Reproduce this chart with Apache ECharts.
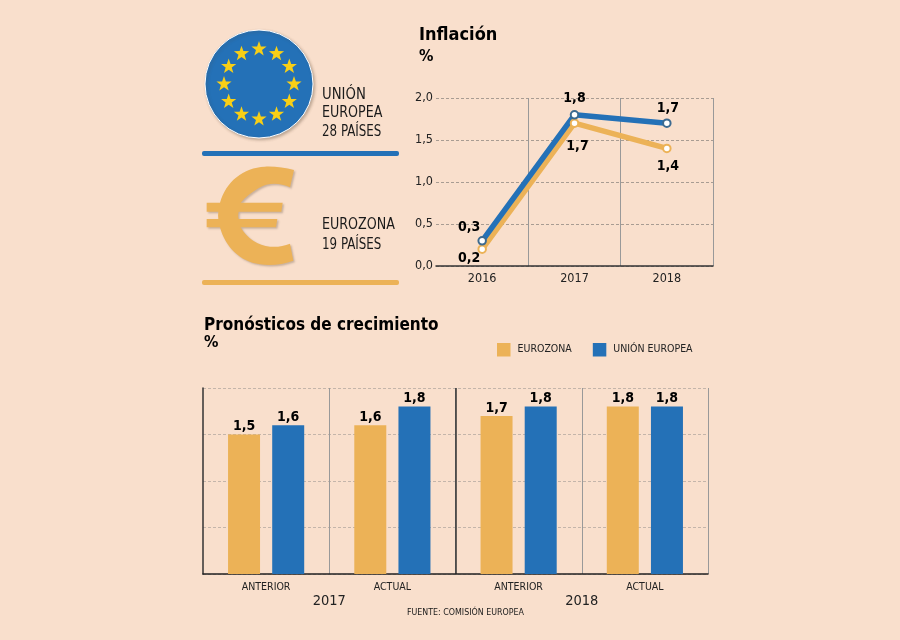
<!DOCTYPE html>
<html>
<head>
<meta charset="utf-8">
<style>
html, body { margin: 0; padding: 0; background: #f9dfcc; }
#chart { width: 900px; height: 640px; }
</style>
<script src="https://cdn.jsdelivr.net/npm/echarts@6/dist/echarts.min.js"></script>
</head>
<body>
<div id="chart"></div>
<script>
var inflationYears = ['2016', '2017', '2018'];
var inflationEurozona = [0.2, 1.7, 1.4];
var inflationUnion = [0.3, 1.8, 1.7];

var forecastCategories = ['ANTERIOR', 'ACTUAL', 'ANTERIOR', 'ACTUAL'];
var forecastYears = ['2017', '2018'];
var forecastEurozona = [1.5, 1.6, 1.7, 1.8];
var forecastUnion = [1.6, 1.8, 1.8, 1.8];

var BLUE = '#2471b7';
var ORANGE = '#ecb257';
var FONT = '"DejaVu Sans Condensed", "DejaVu Sans", sans-serif';
var BG = '#f9dfcc';

function comma(value) {
    return value.toFixed(1).replace('.', ',');
}

function valueLabel(params) {
    return comma(params.value);
}

// label offsets per point, the line labels sit around the markers by hand
function lineData(values, offsets) {
    return values.map(function (v, i) {
        return { value: v, label: { offset: offsets[i] } };
    });
}

function starPoints(cx, cy, r) {
    var pts = [];
    for (var i = 0; i < 10; i++) {
        var a = -Math.PI / 2 + i * Math.PI / 5;
        var rr = i % 2 ? r * 0.4 : r;
        pts.push([cx + rr * Math.cos(a), cy + rr * Math.sin(a)]);
    }
    return pts;
}

var flag = [{
    type: 'circle',
    shape: { cx: 259, cy: 84, r: 54 },
    style: { fill: BLUE, stroke: '#fff', lineWidth: 1, shadowBlur: 3, shadowColor: 'rgba(90,70,50,0.35)', shadowOffsetX: 1.5, shadowOffsetY: 1.5 }
}];
for (var s = 0; s < 12; s++) {
    var ang = s * Math.PI / 6;
    flag.push({
        type: 'polygon',
        shape: { points: starPoints(259 + 35 * Math.sin(ang), 84 - 35 * Math.cos(ang), 8) },
        style: { fill: '#f8cf16' }
    });
}

// euro sign, traced in zoomed picture units then scaled down
var euroPath = 'M312 450 L300 502 C270 488 235 486 205 505 C185 517 165 532 152 548 L278 548 L274 575 L146 575 '
    + 'C144 582 144 590 146 597 L262 597 L258 622 L152 622 C170 655 205 678 240 680 C262 682 282 678 300 671 L310 722 '
    + 'C280 733 245 738 210 733 C150 725 105 680 90 622 L50 622 L50 597 L85 597 C84 590 84 582 85 575 L50 575 L50 548 L90 548 '
    + 'C108 485 160 442 225 440 C255 439 285 443 312 450 Z';
echarts.graphic.registerShape('euro', echarts.graphic.extendPath(euroPath, {}));

function panelText(x, y, text, size, scaleX) {
    return {
        type: 'text', x: x, y: y, scaleX: scaleX,
        style: { text: text, fill: '#1a1a1a', font: 'normal ' + size + 'px ' + FONT, textVerticalAlign: 'middle' }
    };
}

var valueFont = { fontSize: 14, fontWeight: 'bold', color: '#000', fontFamily: FONT, formatter: valueLabel };

var myChart = echarts.init(document.getElementById('chart'));

var option = {
    backgroundColor: BG,
    animation: false,
    textStyle: { fontFamily: FONT },
    title: [
        { text: 'Inflación', left: 414, top: 21, textStyle: { fontSize: 18, fontWeight: 'bold', color: '#000', fontFamily: FONT } },
        { text: '%', left: 414, top: 44, textStyle: { fontSize: 16, fontWeight: 'bold', color: '#000', fontFamily: FONT } },
        { text: 'Pronósticos de crecimiento', left: 199, top: 312, textStyle: { fontSize: 17, fontWeight: 'bold', color: '#000', fontFamily: FONT } },
        { text: '%', left: 199, top: 330, textStyle: { fontSize: 16, fontWeight: 'bold', color: '#000', fontFamily: FONT } }
    ],
    legend: {
        left: 497,
        top: 343,
        padding: 0,
        icon: 'rect',
        itemWidth: 13.5,
        itemHeight: 13.5,
        itemGap: 21,
        data: ['EUROZONA', 'UNIÓN EUROPEA'],
        textStyle: { fontSize: 10.5, color: '#222', fontFamily: FONT, padding: [6, 0, 0, 2] }
    },
    grid: [
        { left: 436, right: 187, top: 98, height: 168 },
        { left: 203, right: 192, top: 388, height: 186 }
    ],
    xAxis: [
        {
            gridIndex: 0,
            type: 'category',
            data: inflationYears,
            axisLine: { lineStyle: { color: '#333', width: 1.5 } },
            axisTick: { show: false },
            axisLabel: { color: '#222', fontSize: 12.5, margin: 6 },
            splitLine: { show: true, showMinLine: false, lineStyle: { color: '#999', width: 1 } }
        },
        {
            gridIndex: 1,
            type: 'category',
            data: forecastCategories,
            axisLine: { lineStyle: { color: '#222', width: 1.5 } },
            axisTick: { show: false },
            axisLabel: { color: '#222', fontSize: 10.5, margin: 8 },
            splitLine: { show: true, showMinLine: false, lineStyle: { color: '#999', width: 1 } }
        },
        {
            gridIndex: 1,
            type: 'category',
            position: 'bottom',
            data: forecastYears,
            axisLine: { show: false },
            axisTick: { show: false },
            axisLabel: { color: '#222', fontSize: 14.5, margin: 20 },
            splitLine: { show: true, showMinLine: false, showMaxLine: false, lineStyle: { color: '#333', width: 1.5 } }
        }
    ],
    yAxis: [
        {
            gridIndex: 0,
            type: 'value',
            min: 0,
            max: 2,
            interval: 0.5,
            axisLine: { show: false },
            axisTick: { show: false },
            axisLabel: { color: '#222', fontSize: 12.5, margin: 3, formatter: comma },
            splitLine: { lineStyle: { color: '#a89c92', type: [3, 2], width: 1 } }
        },
        {
            gridIndex: 1,
            type: 'value',
            min: 0,
            max: 2,
            interval: 0.5,
            axisLine: { show: true, lineStyle: { color: '#333', width: 1.5 } },
            axisTick: { show: false },
            axisLabel: { show: false },
            splitLine: { lineStyle: { color: '#c4b5aa', type: [3, 2], width: 1 } }
        }
    ],
    series: [
        {
            name: 'EUROZONA',
            type: 'bar',
            xAxisIndex: 1,
            yAxisIndex: 1,
            data: forecastEurozona,
            barWidth: 32,
            barGap: '38%',
            itemStyle: { color: ORANGE },
            label: Object.assign({ show: true, position: 'top', distance: 1 }, valueFont)
        },
        {
            name: 'UNIÓN EUROPEA',
            type: 'bar',
            xAxisIndex: 1,
            yAxisIndex: 1,
            data: forecastUnion,
            barWidth: 32,
            barGap: '38%',
            itemStyle: { color: BLUE },
            label: Object.assign({ show: true, position: 'top', distance: 1 }, valueFont)
        },
        {
            name: 'EUROZONA',
            type: 'line',
            xAxisIndex: 0,
            yAxisIndex: 0,
            data: lineData(inflationEurozona, [[-13, 9], [3, 23], [1, 18]]),
            symbol: 'circle',
            symbolSize: 7.5,
            lineStyle: { color: ORANGE, width: 5.5 },
            itemStyle: { color: '#fff', borderColor: ORANGE, borderWidth: 2 },
            label: Object.assign({ show: true, position: 'inside' }, valueFont)
        },
        {
            name: 'UNIÓN EUROPEA',
            type: 'line',
            xAxisIndex: 0,
            yAxisIndex: 0,
            data: lineData(inflationUnion, [[-13, -13], [0, -16], [1, -15]]),
            symbol: 'circle',
            symbolSize: 7.5,
            lineStyle: { color: BLUE, width: 5.5 },
            itemStyle: { color: '#fff', borderColor: '#3c6a90', borderWidth: 2 },
            label: Object.assign({ show: true, position: 'inside' }, valueFont)
        }
    ],
    graphic: flag.concat([
        {
            type: 'rect',
            shape: { x: 202, y: 151, width: 197, height: 5, r: 2 },
            style: { fill: BLUE }
        },
        {
            type: 'rect',
            shape: { x: 202, y: 280, width: 197, height: 5, r: 2 },
            style: { fill: ORANGE }
        },
        {
            type: 'euro',
            x: 190,
            y: 20,
            scaleX: 1 / 3,
            scaleY: 1 / 3,
            style: { fill: ORANGE, shadowBlur: 2, shadowColor: 'rgba(90,70,50,0.3)', shadowOffsetX: 1.5, shadowOffsetY: 1.5 }
        },
        panelText(322, 95, 'UNIÓN', 15, 0.98),
        panelText(322, 113, 'EUROPEA', 15, 0.94),
        panelText(322, 132, '28 PAÍSES', 15, 0.88),
        panelText(322, 225, 'EUROZONA', 15, 0.94),
        panelText(322, 245, '19 PAÍSES', 15, 0.88),
        panelText(407, 613, 'FUENTE: COMISIÓN EUROPEA', 8.8, 1)
    ])
};

myChart.setOption(option);

window.addEventListener('resize', function () {
    myChart.resize();
});
</script>
</body>
</html>
